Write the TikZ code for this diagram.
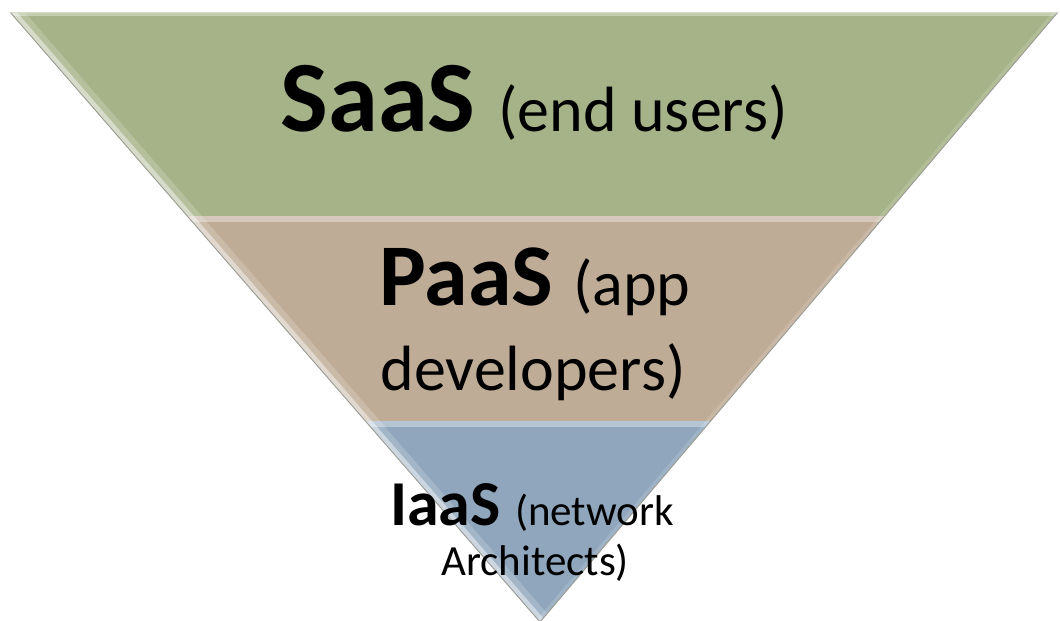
\documentclass[tikz,border=0pt]{standalone}
\usepackage{fontspec}
\setmainfont{Carlito}
\definecolor{saasgreen}{HTML}{A6B388}
\definecolor{paastan}{HTML}{BFAC96}
\definecolor{iaasblue}{HTML}{8FA6BD}
\definecolor{edgegray}{HTML}{9A9C94}
\tikzset{
  layerlabel/.style={inner sep=0pt, outer sep=0pt, anchor=base, text=black},
  rimlight/.style={white, line cap=butt},
}
\newcommand{\bigsz}[1]{\fontsize{#1}{#1}\selectfont}
\begin{document}
\begin{tikzpicture}[x=1pt,y=-1pt]
\useasboundingbox (0,0) rectangle (1060,621);

% corners of the inverted pyramid and the layer boundaries
\coordinate (tl) at (10,12);
\coordinate (tr) at (1058,12);
\coordinate (apex) at (540,622);
\coordinate (l1) at (187.2,216);
\coordinate (r1) at (884.8,216);
\coordinate (l2) at (365.3,421);
\coordinate (r2) at (710.7,421);

% layer fills
\fill[saasgreen] (tl) -- (tr) -- (r1) -- (l1) -- cycle;
\fill[paastan] (l1) -- (r1) -- (r2) -- (l2) -- cycle;
\fill[iaasblue] (l2) -- (r2) -- (apex) -- cycle;

% soft light along the top of each layer
\begin{scope}
  \clip (tl) -- (tr) -- (r1) -- (l1) -- cycle;
  \draw[rimlight, opacity=0.35, line width=7] (tl) -- (tr);
\end{scope}
\begin{scope}
  \clip (l1) -- (r1) -- (r2) -- (l2) -- cycle;
  \draw[rimlight, opacity=0.35, line width=12] (l1) -- (r1);
\end{scope}
\begin{scope}
  \clip (l2) -- (r2) -- (apex) -- cycle;
  \draw[rimlight, opacity=0.35, line width=12] (l2) -- (r2);
\end{scope}

% bevel highlight along the left side
\begin{scope}
  \clip (tl) -- (tr) -- (apex) -- cycle;
  \draw[rimlight, opacity=0.18, line width=22] (tl) -- (apex);
  \draw[rimlight, opacity=0.45, line width=10] (tl) -- (apex);
  \draw[rimlight, opacity=0.15, line width=8] (tr) -- (apex);
\end{scope}

% thin outer rim
\draw[edgegray, line width=0.9] (tl) -- (apex) -- (tr);
\draw[white!55!saasgreen, line width=1] (tl) -- (tr);

% layer labels
\node[layerlabel] (saas) at (534,131)
  {\bigsz{101}\bfseries SaaS \bigsz{64}\mdseries(end users)};
\node[layerlabel] (paas) at (535,305)
  {\bigsz{88}\bfseries PaaS \bigsz{64}\mdseries(app};
\node[layerlabel] (paasb) at (533,390)
  {\bigsz{64}developers)};
\node[layerlabel] (iaas) at (532,525)
  {\bigsz{64}\bfseries IaaS \bigsz{43}\mdseries(network};
\node[layerlabel] (iaasb) at (535,575)
  {\bigsz{43}Architects)};
\end{tikzpicture}
\end{document}
